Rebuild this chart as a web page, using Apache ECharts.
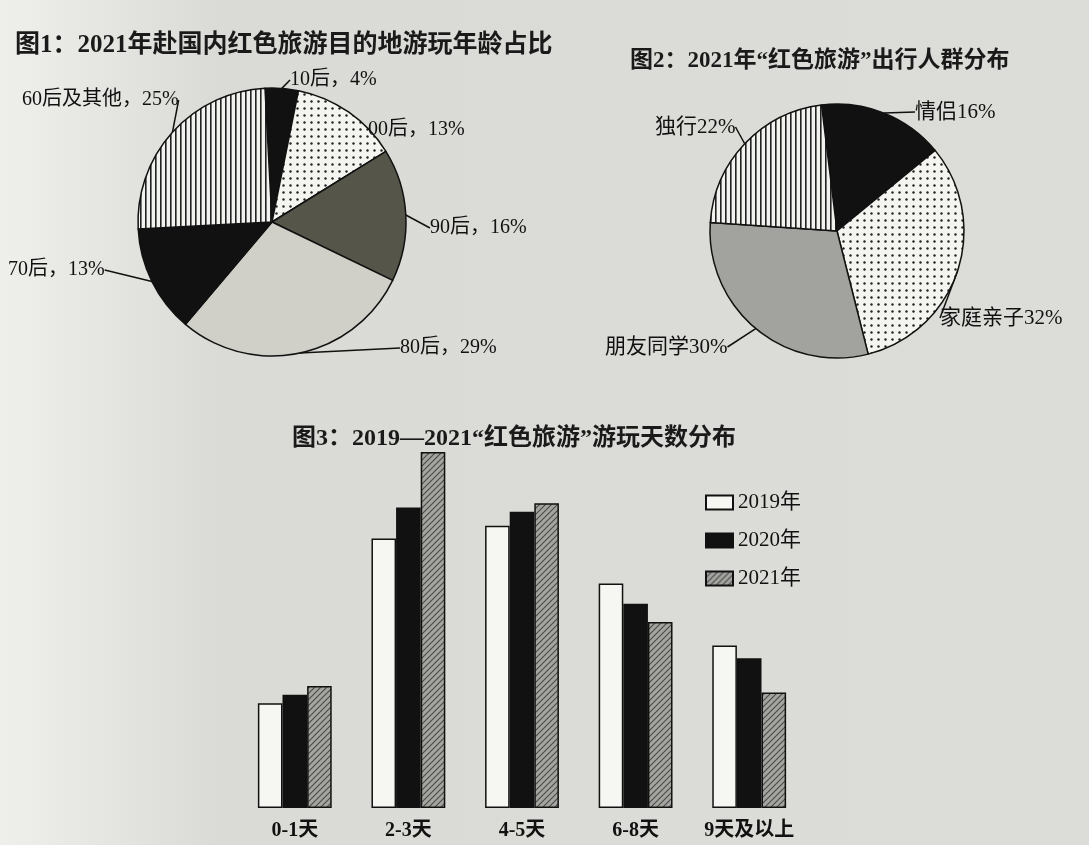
<!DOCTYPE html>
<html><head><meta charset="utf-8">
<script src="https://cdn.jsdelivr.net/npm/echarts@6/dist/echarts.min.js"></script>
<style>html,body{margin:0;padding:0;background:#d8d8d4}#c{width:1089px;height:845px}</style>
</head><body><div id="c"></div>
<script>
// ---- data ----
const ageNames = ['10后', '00后', '90后', '80后', '70后', '60后及其他'];
const ageValues = [4, 13, 16, 29, 13, 25];
const groupNames = ['情侣', '家庭亲子', '朋友同学', '独行'];
const groupValues = [16, 32, 30, 22];
const dayCategories = ['0-1天', '2-3天', '4-5天', '6-8天', '9天及以上'];
const yearNames = ['2019年', '2020年', '2021年'];
const v2019 = [9.8, 25.2, 26.4, 21.0, 15.2];
const v2020 = [10.6, 28.1, 27.7, 19.1, 14.0];
const v2021 = [11.4, 33.3, 28.5, 17.4, 10.8];

// ---- patterns ----
function pat(w, h, draw) {
  const c = document.createElement('canvas'); c.width = w; c.height = h;
  const g = c.getContext('2d'); draw(g, w, h);
  return { image: c, repeat: 'repeat' };
}
const vStripe = () => pat(5, 5, (g, w, h) => { g.fillStyle = '#f2f2ee'; g.fillRect(0, 0, w, h); g.fillStyle = '#222'; g.fillRect(0, 0, 1.6, h); });
const dots = () => pat(7, 7, (g, w, h) => { g.fillStyle = '#f4f4f0'; g.fillRect(0, 0, w, h); g.fillStyle = '#222'; g.beginPath(); g.arc(3.5, 3.5, 1.2, 0, Math.PI * 2); g.fill(); });
const hatch = () => pat(6, 6, (g, w, h) => { g.fillStyle = '#a4a4a0'; g.fillRect(0, 0, w, h); g.strokeStyle = '#4a4a48'; g.lineWidth = 1.1; g.beginPath(); g.moveTo(0, h); g.lineTo(w, 0); g.moveTo(-1, 1); g.lineTo(1, -1); g.moveTo(w - 1, h + 1); g.lineTo(w + 1, h - 1); g.stroke(); });

const FONT = "'Liberation Serif','Noto Sans CJK SC',serif";
const ageColors = ['#111', dots(), '#55554a', '#d0d0c8', '#111', vStripe()];
const groupColors = ['#111', dots(), '#a2a29e', vStripe()];
const agePos = [[290, 80], [368, 130], [430, 228], [400, 348], [8, 270], [22, 100]];
const groupPos = [[915, 112], [940, 318], [605, 347], [655, 127]];

const chart = echarts.init(document.getElementById('c'));
const lineStyle = { color: '#111', width: 1.5 };
chart.setOption({
  backgroundColor: new echarts.graphic.LinearGradient(0, 0, 1, 0, [
    { offset: 0, color: '#efefec' }, { offset: 0.2, color: '#dadad6' }, { offset: 1, color: '#dcdcd8' }]),
  animation: false,
  title: [
    { text: '图1：2021年赴国内红色旅游目的地游玩年龄占比', left: 10, top: 28, textStyle: { fontSize: 25, fontWeight: 'bold', color: '#1a1a1a', fontFamily: FONT } },
    { text: '图2：2021年“红色旅游”出行人群分布', left: 625, top: 45, textStyle: { fontSize: 23, fontWeight: 'bold', color: '#1a1a1a', fontFamily: FONT } },
    { text: '图3：2019—2021“红色旅游”游玩天数分布', left: 287, top: 422, textStyle: { fontSize: 24, fontWeight: 'bold', color: '#1a1a1a', fontFamily: FONT } }
  ],
  legend: {
    data: yearNames, orient: 'vertical', left: 700, top: 487, itemWidth: 27, itemHeight: 14, itemGap: 17, icon: 'rect',
    textStyle: { fontSize: 21, color: '#111', fontFamily: FONT }
  },
  grid: { left: 238, right: 283, top: 423, bottom: 37 },
  xAxis: { type: 'category', data: dayCategories, axisLine: { show: false }, axisTick: { show: false },
    axisLabel: { interval: 0, fontSize: 20, fontWeight: 'bold', color: '#111', fontFamily: FONT, margin: 13 } },
  yAxis: { type: 'value', min: 0, max: 36, show: false },
  series: [
    { type: 'pie', center: [272, 222], radius: 134, startAngle: 93, clockwise: true,
      data: ageNames.map((n, i) => ({ name: n, value: ageValues[i], itemStyle: { color: ageColors[i] } })),
      itemStyle: { borderColor: '#111', borderWidth: 1.5 },
      label: { formatter: '{b}，{c}%', color: '#111', fontSize: 20, fontFamily: FONT, overflow: 'none' },
      labelLine: { show: true, length: 12, length2: 0, lineStyle },
      labelLayout: p => ({ x: agePos[p.dataIndex][0], y: agePos[p.dataIndex][1], align: 'left', verticalAlign: 'middle' }) },
    { type: 'pie', center: [837, 231], radius: 127, startAngle: 97, clockwise: true,
      data: groupNames.map((n, i) => ({ name: n, value: groupValues[i], itemStyle: { color: groupColors[i] } })),
      itemStyle: { borderColor: '#111', borderWidth: 1.5 },
      label: { formatter: '{b}{c}%', color: '#111', fontSize: 21, fontFamily: FONT, overflow: 'none' },
      labelLine: { show: true, length: 12, length2: 0, lineStyle },
      labelLayout: p => ({ x: groupPos[p.dataIndex][0], y: groupPos[p.dataIndex][1], align: 'left', verticalAlign: 'middle' }) },
    { type: 'bar', name: yearNames[0], data: v2019, barGap: '0%', barCategoryGap: '35%',
      itemStyle: { color: '#f6f6f3', borderColor: '#111', borderWidth: 1.5 } },
    { type: 'bar', name: yearNames[1], data: v2020, barGap: '0%', barCategoryGap: '35%',
      itemStyle: { color: '#111', borderColor: '#111', borderWidth: 1.5 } },
    { type: 'bar', name: yearNames[2], data: v2021, barGap: '0%', barCategoryGap: '35%',
      itemStyle: { color: hatch(), borderColor: '#111', borderWidth: 1.5 } }
  ]
});
</script></body></html>
